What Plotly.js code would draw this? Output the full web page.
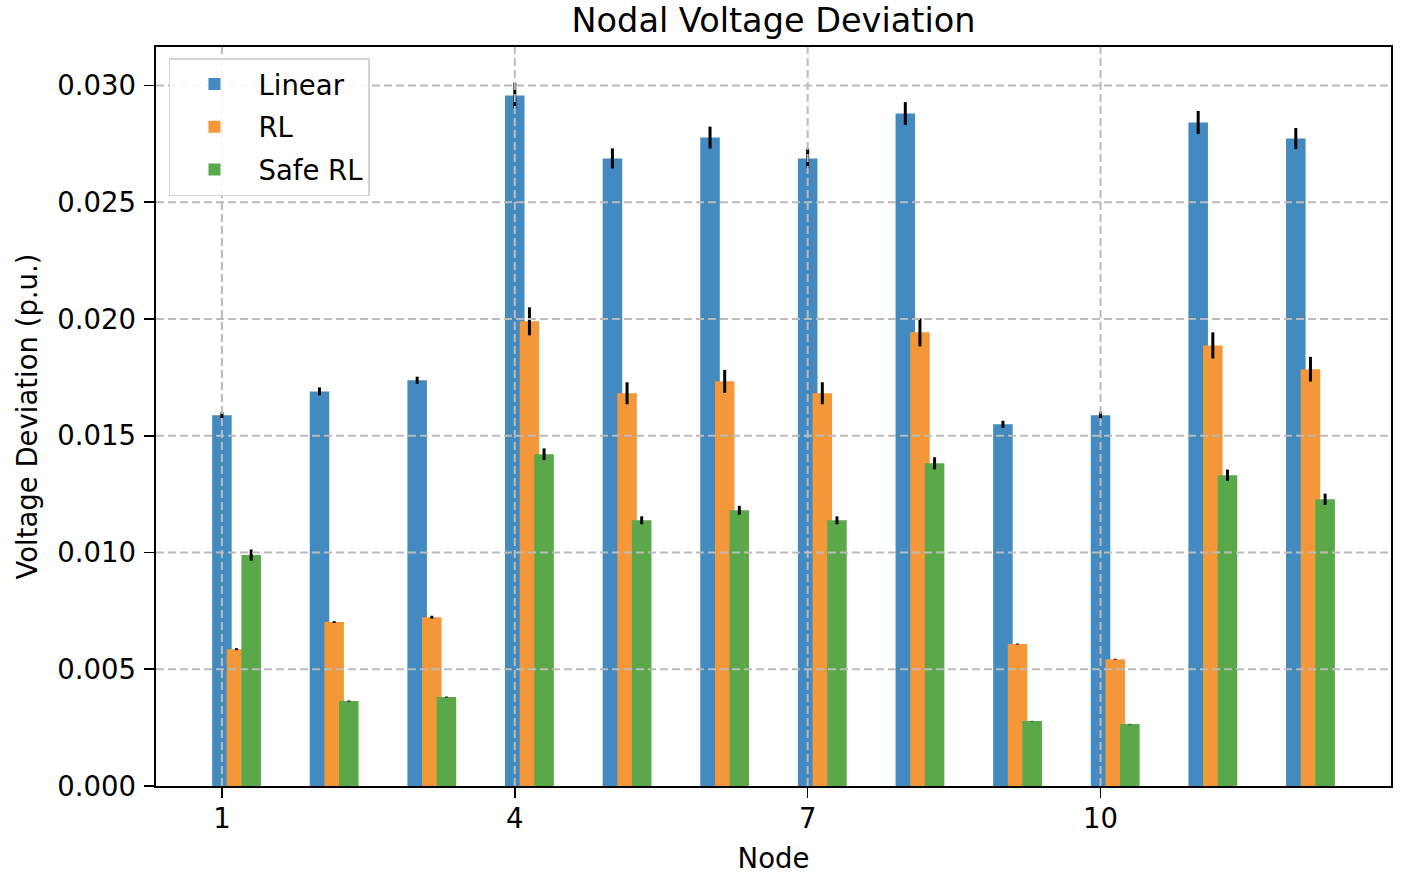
<!DOCTYPE html>
<html>
<head>
<meta charset="utf-8">
<script src="https://cdn.plot.ly/plotly-3.0.1.min.js"></script>
<style>
  html, body { margin: 0; padding: 0; background: #ffffff; }
  #chart { width: 1414px; height: 878px; }
</style>
</head>
<body>
<div id="chart"></div>
<script>
// Nodal voltage deviation per node, mean and error for each controller
const nodes = [1, 2, 3, 4, 5, 6, 7, 8, 9, 10, 11, 12];

const linearMean = [0.01588, 0.01690, 0.01738, 0.02957, 0.02688, 0.02777, 0.02688, 0.02880, 0.01549, 0.01588, 0.02842, 0.02773];
const linearErr  = [0.00013, 0.00017, 0.00015, 0.00055, 0.00043, 0.00047, 0.00043, 0.00049, 0.00015, 0.00015, 0.00049, 0.00045];

const rlMean = [0.00586, 0.00702, 0.00723, 0.01990, 0.01682, 0.01733, 0.01682, 0.01943, 0.00608, 0.00543, 0.01887, 0.01785];
const rlErr  = [0.00004, 0.00004, 0.00006, 0.00060, 0.00047, 0.00049, 0.00047, 0.00060, 0.00002, 0.00002, 0.00056, 0.00053];

const safeMean = [0.00989, 0.00364, 0.00381, 0.01421, 0.01138, 0.01181, 0.01138, 0.01382, 0.00278, 0.00265, 0.01331, 0.01228];
const safeErr  = [0.00024, 0.00002, 0.00002, 0.00025, 0.00017, 0.00019, 0.00017, 0.00026, 0.00001, 0.00001, 0.00024, 0.00024];

const xTicks = [1, 4, 7, 10];
const yTicks = [0.005, 0.010, 0.015, 0.020, 0.025, 0.030];

const barWidth = 0.2;
const fontFamily = 'DejaVu Sans, sans-serif';

function barTrace(name, y, err, color, offset) {
    return {
        type: 'bar',
        name: name,
        legendgroup: name,
        x: nodes,
        y: y,
        width: barWidth,
        offset: offset,
        marker: { color: color, line: { width: 0 } },
        error_y: {
            type: 'data',
            array: err,
            visible: true,
            color: '#000000',
            thickness: 3,
            width: 0
        }
    };
}

const data = [
    barTrace('Linear', linearMean, linearErr, '#428abf', -0.1),
    barTrace('RL', rlMean, rlErr, '#f39739', 0.05),
    barTrace('Safe RL', safeMean, safeErr, '#5aa849', 0.2)
];

// grid lines drawn above the bars, like the original
const gridStyle = { color: '#bbbbbb', width: 2, dash: '8px,4px' };
const shapes = [];
xTicks.forEach(v => shapes.push({
    type: 'line', layer: 'above', xref: 'x', yref: 'paper',
    x0: v, x1: v, y0: 0, y1: 1, line: gridStyle
}));
yTicks.forEach(v => shapes.push({
    type: 'line', layer: 'above', xref: 'paper', yref: 'y',
    x0: 0, x1: 1, y0: v, y1: v, line: gridStyle
}));

const layout = {
    width: 1414,
    height: 878,
    paper_bgcolor: '#ffffff',
    plot_bgcolor: '#ffffff',
    font: { family: fontFamily, size: 27.5, color: '#000000' },
    margin: { l: 156, r: 23, t: 47, b: 92 },
    barmode: 'overlay',
    showlegend: true,
    title: {
        text: 'Nodal Voltage Deviation',
        font: { family: fontFamily, size: 33.5, color: '#000000' },
        x: 0.5,
        xref: 'paper',
        y: 0.977,
        yanchor: 'middle'
    },
    xaxis: {
        range: [0.325, 12.975],
        tickvals: xTicks,
        ticktext: xTicks.map(String),
        ticks: 'outside',
        ticklen: 10,
        tickwidth: 1.6,
        tickcolor: '#000000',
        ticklabelstandoff: -3,
        showgrid: false,
        zeroline: false,
        showline: true,
        mirror: true,
        linecolor: '#000000',
        linewidth: 1.6,
        title: { text: 'Node', standoff: 16, font: { family: fontFamily, size: 27.5 } }
    },
    yaxis: {
        range: [0, 0.03165],
        tickvals: [0].concat(yTicks),
        tickformat: '.3f',
        ticks: 'outside',
        ticklen: 10,
        tickwidth: 1.6,
        tickcolor: '#000000',
        ticklabelstandoff: 3,
        showgrid: false,
        zeroline: false,
        showline: true,
        mirror: true,
        linecolor: '#000000',
        linewidth: 1.6,
        title: { text: 'Voltage Deviation (p.u.)', standoff: 11, font: { family: fontFamily, size: 27.5 } }
    },
    legend: {
        x: 0.0105,
        y: 0.985,
        xanchor: 'left',
        yanchor: 'top',
        bgcolor: 'rgba(255,255,255,0.85)',
        bordercolor: '#d4d4d4',
        borderwidth: 1.5,
        font: { family: fontFamily, size: 27.5, color: '#000000' },
        itemwidth: 78,
        tracegroupgap: 4
    },
    shapes: shapes
};

const config = { responsive: false, displayModeBar: false, staticPlot: true };

Plotly.newPlot('chart', data, layout, config);
</script>
</body>
</html>
